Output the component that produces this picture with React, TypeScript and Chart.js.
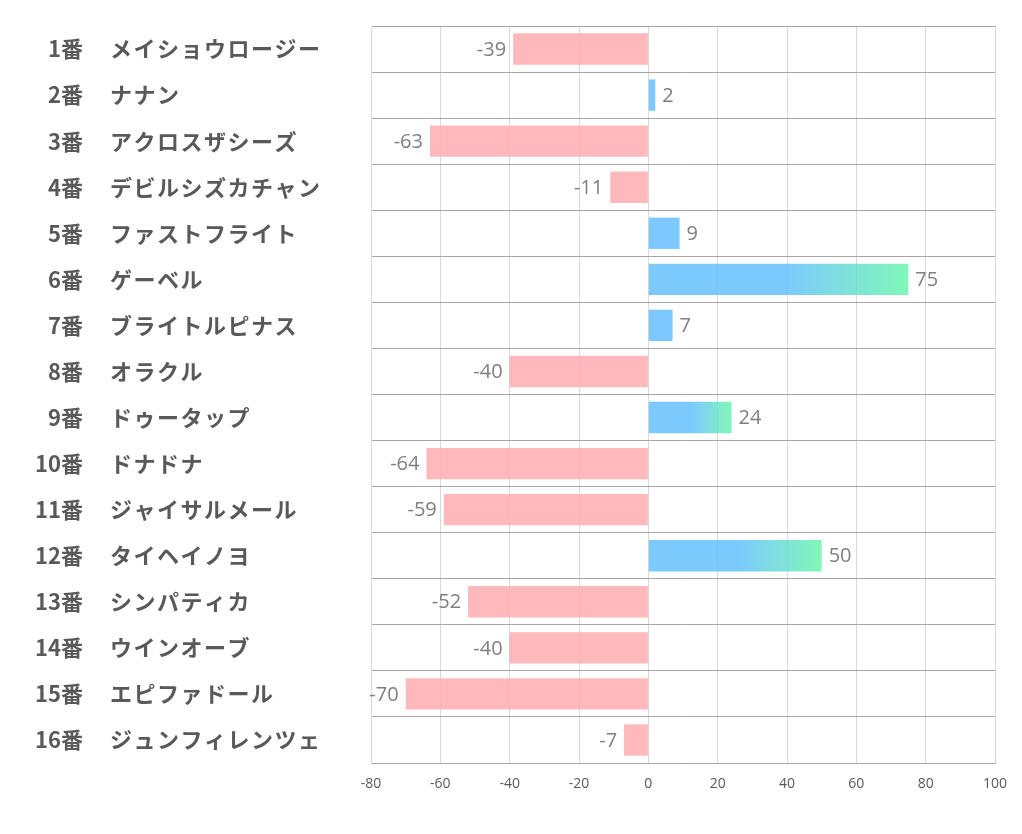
import React, { useEffect, useRef } from "react";
import { Chart, registerables } from "chart.js";

Chart.register(...registerables);

const numbers = ["1", "2", "3", "4", "5", "6", "7", "8", "9", "10", "11", "12", "13", "14", "15", "16"];
const horseNames = [
  "メイショウロージー",
  "ナナン",
  "アクロスザシーズ",
  "デビルシズカチャン",
  "ファストフライト",
  "ゲーベル",
  "ブライトルピナス",
  "オラクル",
  "ドゥータップ",
  "ドナドナ",
  "ジャイサルメール",
  "タイヘイノヨ",
  "シンパティカ",
  "ウインオーブ",
  "エピファドール",
  "ジュンフィレンツェ",
];
const scores = [-39, 2, -63, -11, 9, 75, 7, -40, 24, -64, -59, 50, -52, -40, -70, -7];
const xTicks = [-80, -60, -40, -20, 0, 20, 40, 60, 80, 100];

const BLUE = "rgba(102,192,255,0.85)";
const GREEN = "rgba(106,246,172,0.85)";
const PINK = "rgba(255,173,176,0.85)";

export default function App() {
  const ref = useRef<HTMLCanvasElement | null>(null);

  useEffect(() => {
    document.body.style.margin = "0";
    const canvas = ref.current;
    if (!canvas) return;

    const labelPlugin = {
      id: "leftLabels",
      afterDraw(chart: any) {
        const ctx = chart.ctx;
        const y = chart.scales.y;
        ctx.save();
        ctx.fillStyle = "#595959";
        ctx.font = 'bold 22px "Noto Sans CJK JP"';
        ctx.textBaseline = "middle";
        numbers.forEach((n, i) => {
          const py = y.getPixelForValue(i);
          ctx.textAlign = "right";
          (ctx as any).letterSpacing = "0px";
          ctx.fillText(n + "番", 83, py);
          ctx.textAlign = "left";
          (ctx as any).letterSpacing = "1.5px";
          ctx.fillText(horseNames[i], 110, py);
        });
        ctx.restore();
      },
    };

    const valuePlugin = {
      id: "valueLabels",
      afterDatasetsDraw(chart: any) {
        const ctx = chart.ctx;
        const meta = chart.getDatasetMeta(0);
        ctx.save();
        ctx.fillStyle = "#7f7f7f";
        ctx.font = '20px "Open Sans"';
        ctx.textBaseline = "middle";
        meta.data.forEach((bar: any, i: number) => {
          const v = scores[i];
          if (v >= 0) {
            ctx.textAlign = "left";
            ctx.fillText(String(v), bar.x + 7, bar.y + 1);
          } else {
            ctx.textAlign = "right";
            ctx.fillText(String(v), bar.x - 7, bar.y + 1);
          }
        });
        ctx.restore();
      },
    };

    const chart = new Chart(canvas, {
      type: "bar",
      data: {
        labels: horseNames,
        datasets: [
          {
            data: scores,
            backgroundColor: (c: any) => {
              const v = c.raw as number;
              if (v < 0) return PINK;
              const ch = c.chart;
              if (!ch.chartArea || v < 20) return BLUE;
              const xs = ch.scales.x;
              const x0 = xs.getPixelForValue(0);
              const x1 = xs.getPixelForValue(v);
              const g = ch.ctx.createLinearGradient(x0, 0, x1, 0);
              g.addColorStop(0, BLUE);
              g.addColorStop(0.52, BLUE);
              g.addColorStop(1, GREEN);
              return g;
            },
            borderWidth: 0,
            barPercentage: 0.68,
            categoryPercentage: 1,
          },
        ],
      },
      options: {
        indexAxis: "y",
        responsive: false,
        animation: false,
        events: [],
        layout: { padding: { left: 0, right: 27, top: 26, bottom: 0 } },
        plugins: {
          legend: { display: false },
          tooltip: { enabled: false },
        },
        scales: {
          x: {
            type: "linear",
            min: -80,
            max: 100,
            afterBuildTicks: (s: any) => {
              s.ticks = xTicks.map((v) => ({ value: v }));
            },
            afterFit: (s: any) => {
              s.height = 71;
            },
            grid: { color: "#d9d9d9", drawTicks: false, lineWidth: 1 },
            border: { display: true, color: "#a6a6a6" },
            ticks: {
              color: "#595959",
              font: { size: 14, family: '"Open Sans"' },
              padding: 13,
              autoSkip: false,
              maxRotation: 0,
            },
          },
          y: {
            type: "category",
            afterFit: (s: any) => {
              s.width = 371;
            },
            grid: { color: "#a6a6a6", offset: true, drawTicks: false, lineWidth: 1 },
            border: { display: true, color: "#d9d9d9" },
            ticks: { display: false },
          },
        },
      },
      plugins: [labelPlugin, valuePlugin],
    });

    return () => chart.destroy();
  }, []);

  return (
    <div style={{ position: "relative", width: 1022, height: 834, background: "#fff" }}>
      <canvas ref={ref} width={1022} height={834} style={{ display: "block", width: 1022, height: 834 }} />
    </div>
  );
}
